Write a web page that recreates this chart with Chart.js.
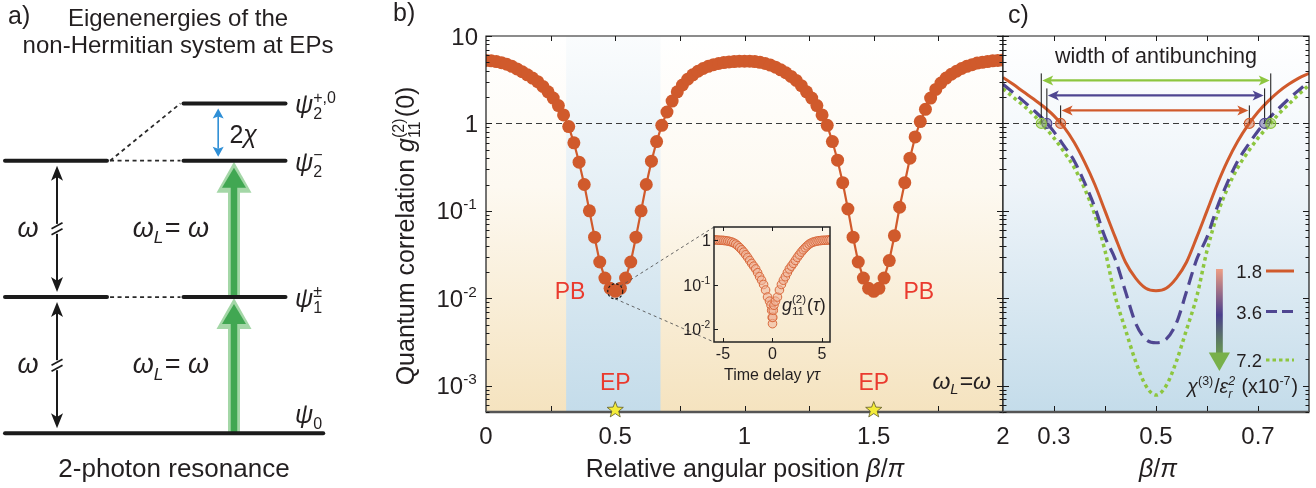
<!DOCTYPE html>
<html lang="en">
<head>
<meta charset="UTF-8">
<title>Antibunching at exceptional points</title>
<script src="https://cdn.jsdelivr.net/npm/chart.js"></script>
<style>
  body { margin: 0; background: #ffffff; }
  #figure { position: relative; width: 1316px; height: 488px; overflow: hidden; }
  #figure canvas { position: absolute; left: 0; top: 0; }
</style>
</head>
<body>
<div id="figure">
  <canvas id="levelChart" width="1316" height="488"></canvas>
  <canvas id="angleChart" width="1316" height="488"></canvas>
  <canvas id="zoomChart" width="1316" height="488"></canvas>
  <canvas id="insetChart" width="1316" height="488"></canvas>
</div>
<script>
  // ---------- values ----------

  // a) energy levels (units of omega)
  const groundLevel = 0;
  const bareLevels = [1, 2];
  const epLevels = [1, 2, 2.42];
  const levelLinks = [[1, 1], [2, 2], [2, 2.42]];
  const levelLabelE = [0, 1, 2, 2.42];
  const levelLabelSub = ['0', '1', '2', '2'];
  const levelLabelSup = ['', '±', '−', '+,0'];

  // b) g2(0) against beta/pi
  const betaB = [
    0, 0.02, 0.04, 0.06, 0.08, 0.1, 0.12, 0.14, 0.16, 0.18,
    0.2, 0.22, 0.24, 0.26, 0.28, 0.3, 0.32, 0.34, 0.36, 0.38,
    0.4, 0.42, 0.44, 0.46, 0.48, 0.5, 0.52, 0.54, 0.56, 0.58,
    0.6, 0.62, 0.64, 0.66, 0.68, 0.7, 0.72, 0.74, 0.76, 0.78,
    0.8, 0.82, 0.84, 0.86, 0.88, 0.9, 0.92, 0.94, 0.96, 0.98,
    1, 1.02, 1.04, 1.06, 1.08, 1.1, 1.12, 1.14, 1.16, 1.18,
    1.2, 1.22, 1.24, 1.26, 1.28, 1.3, 1.32, 1.34, 1.36, 1.38,
    1.4, 1.42, 1.44, 1.46, 1.48, 1.5, 1.52, 1.54, 1.56, 1.58,
    1.6, 1.62, 1.64, 1.66, 1.68, 1.7, 1.72, 1.74, 1.76, 1.78,
    1.8, 1.82, 1.84, 1.86, 1.88, 1.9, 1.92, 1.94, 1.96, 1.98, 2
  ];
  const g2B = [
    5.25, 5.2, 5.1, 4.95, 4.75, 4.5, 4.2, 3.9, 3.6, 3.3,
    3.0, 2.65, 2.3, 1.95, 1.6, 1.25, 0.92, 0.6, 0.36, 0.2,
    0.1, 0.05, 0.026, 0.017, 0.013, 0.012, 0.013, 0.017, 0.026, 0.05,
    0.1, 0.2, 0.37, 0.62, 0.95, 1.35, 1.8, 2.3, 2.75, 3.2,
    3.6, 3.95, 4.25, 4.5, 4.7, 4.85, 4.97, 5.05, 5.1, 5.15,
    5.15, 5.15, 5.1, 5.0, 4.85, 4.65, 4.4, 4.1, 3.8, 3.45,
    3.1, 2.7, 2.3, 1.95, 1.6, 1.25, 0.95, 0.62, 0.38, 0.21,
    0.105, 0.05, 0.026, 0.017, 0.013, 0.012, 0.013, 0.017, 0.027, 0.052,
    0.11, 0.21, 0.4, 0.7, 1.05, 1.45, 1.95, 2.45, 2.9, 3.3,
    3.65, 3.95, 4.25, 4.5, 4.7, 4.9, 5.0, 5.1, 5.2, 5.25, 5.3
  ];
  const epPositions = [0.5, 1.5];
  const epBand = [0.31, 0.675];
  const xTickValuesB = [0, 0.5, 1, 1.5, 2];
  const xTickLabelsB = ['0', '0.5', '1', '1.5', '2'];
  const yTickValues = [10, 1, 0.1, 0.01, 0.001];
  const yTickLabels = ['10', '1', '10^-1', '10^-2', '10^-3'];

  // inset: g2(tau)
  const tauIn = [-5.9, -5.7, -5.5, -5.3, -5.1, -4.9, -4.7, -4.5, -4.3, -4.1, -3.9, -3.7, -3.5, -3.3, -3.1,
    -2.9, -2.7, -2.5, -2.3, -2.1, -1.9, -1.7, -1.5, -1.3, -1.1, -0.9, -0.7, -0.5, -0.3, -0.15, -0.08, -0.03,
    0, 0.03, 0.08, 0.15, 0.3, 0.5, 0.7, 0.9, 1.1, 1.3, 1.5, 1.7, 1.9, 2.1, 2.3, 2.5, 2.7, 2.9, 3.1, 3.3,
    3.5, 3.7, 3.9, 4.1, 4.3, 4.5, 4.7, 4.9, 5.1, 5.3, 5.5, 5.7, 5.9];
  const g2Tau = [1.02, 1.02, 1.01, 1, 1, 0.99, 0.98, 0.96, 0.94, 0.91, 0.87, 0.82, 0.75, 0.68, 0.61,
    0.54, 0.47, 0.41, 0.35, 0.3, 0.26, 0.225, 0.185, 0.15, 0.125, 0.1, 0.075, 0.052, 0.042, 0.034, 0.026, 0.018,
    0.013, 0.018, 0.026, 0.034, 0.042, 0.052, 0.075, 0.1, 0.125, 0.15, 0.185, 0.225, 0.26, 0.3, 0.35,
    0.41, 0.47, 0.54, 0.61, 0.68, 0.75, 0.82, 0.87, 0.91, 0.94, 0.96, 0.98, 0.99, 1, 1, 1.01, 1.02, 1.02];
  const tauTicks = [-5, 0, 5];
  const insetYTicks = [1, 0.1, 0.01];
  const insetYLabels = ['1', '10^-1', '10^-2'];

  // c) zoom around the EP for three Kerr strengths
  const betaC = [0.2, 0.22, 0.24, 0.26, 0.28, 0.3, 0.32, 0.34, 0.36, 0.38, 0.4, 0.42, 0.44, 0.46, 0.48, 0.5,
    0.52, 0.54, 0.56, 0.58, 0.6, 0.62, 0.64, 0.66, 0.68, 0.7, 0.72, 0.74, 0.76, 0.78, 0.8];
  const g2C18 = [3.35, 2.8, 2.3, 1.9, 1.55, 1.22, 0.9, 0.6, 0.36, 0.2, 0.1, 0.05, 0.026, 0.017, 0.013, 0.0122,
    0.013, 0.017, 0.026, 0.05, 0.1, 0.2, 0.37, 0.62, 0.95, 1.35, 1.8, 2.3, 2.8, 3.3, 3.75];
  const g2C36 = [2.8, 2.25, 1.8, 1.42, 1.1, 0.8, 0.55, 0.37, 0.21, 0.11, 0.05, 0.028, 0.012, 0.0052, 0.0034, 0.0031,
    0.0034, 0.0052, 0.012, 0.028, 0.05, 0.11, 0.21, 0.37, 0.56, 0.82, 1.12, 1.47, 1.9, 2.4, 3.0];
  const g2C72 = [2.5, 2.0, 1.6, 1.25, 0.93, 0.68, 0.47, 0.31, 0.18, 0.09, 0.035, 0.0105, 0.0044, 0.0019, 0.001, 0.00078,
    0.001, 0.0019, 0.0044, 0.0105, 0.035, 0.09, 0.18, 0.31, 0.47, 0.68, 0.93, 1.27, 1.65, 2.15, 2.75];
  const kerrLabels = ['1.8', '3.6', '7.2'];
  const crossings = [[0.313, 0.683], [0.286, 0.713], [0.275, 0.725]]; // g2 = 1 for 1.8, 3.6, 7.2
  const xTickValuesC = [0.3, 0.5, 0.7];
  const xTickLabelsC = ['0.3', '0.5', '0.7'];

  // ---------- styling ----------
  const FONT = '"Liberation Sans", Arial, Helvetica, sans-serif';
  const INK = '#231f20';
  const ORANGE = '#d05a2c';
  const PURPLE = '#4f4691';
  const GREEN = '#8dc63f';
  const RED = '#ea3a2e';
  const kerrColors = [ORANGE, PURPLE, GREEN];
  const W = 1316, H = 488;
  const TICK_FONT = 24, TITLE_FONT = 25, PANEL_FONT = 25;

  const toXY = (xs, ys) => xs.map((x, i) => ({ x: x, y: ys[i] }));

  // ---------- text helpers (sub/superscripts) ----------
  const fontOf = (size, italic) => (italic ? 'italic ' : '') + size + 'px ' + FONT;

  function partW(ctx, p, size) {
    if (p.sup !== undefined || p.sub !== undefined) {
      ctx.font = fontOf(size * 0.64, p.it);
      const a = p.sup ? ctx.measureText(p.sup).width : 0;
      const b = p.sub ? ctx.measureText(p.sub).width : 0;
      return Math.max(a, b) + size * 0.05;
    }
    ctx.font = fontOf(size, p.it);
    return ctx.measureText(p.t).width;
  }

  function rich(ctx, parts, x, y, size, align, color) {
    let w = 0;
    parts.forEach(p => { w += partW(ctx, p, size); });
    let cx = align === 'center' ? x - w / 2 : align === 'right' ? x - w : x;
    ctx.fillStyle = color || INK;
    ctx.textAlign = 'left';
    ctx.textBaseline = 'alphabetic';
    parts.forEach(p => {
      const pw = partW(ctx, p, size);
      if (p.sup !== undefined || p.sub !== undefined) {
        ctx.font = fontOf(size * 0.64, p.it);
        if (p.sup) ctx.fillText(p.sup, cx, y - size * 0.42);
        if (p.sub) ctx.fillText(p.sub, cx, y + size * 0.24);
      } else {
        ctx.font = fontOf(size, p.it);
        ctx.fillText(p.t, cx, y);
      }
      cx += pw;
    });
    return w;
  }

  const parseTick = s => {
    const bits = s.split('^');
    return bits[1] ? [{ t: bits[0] }, { sup: bits[1] }] : [{ t: bits[0] }];
  };

  // ---------- drawing helpers ----------
  function seg2(ctx, x0, y0, x1, y1) {
    ctx.beginPath(); ctx.moveTo(x0, y0); ctx.lineTo(x1, y1); ctx.stroke();
  }

  // arrow head with tip at (tx, ty) pointing along (dx, dy)
  function head(ctx, tx, ty, dx, dy, len, hw, color, notch) {
    const px = -dy, py = dx;
    const bx = tx - dx * len, by = ty - dy * len;
    const nx = tx - dx * len * notch, ny = ty - dy * len * notch;
    ctx.fillStyle = color;
    ctx.beginPath();
    ctx.moveTo(tx, ty);
    ctx.lineTo(bx + px * hw, by + py * hw);
    ctx.lineTo(nx, ny);
    ctx.lineTo(bx - px * hw, by - py * hw);
    ctx.closePath();
    ctx.fill();
  }

  function star(ctx, cx, cy, ro, ri) {
    ctx.beginPath();
    for (let i = 0; i < 10; i++) {
      const r = i % 2 === 0 ? ro : ri;
      const ang = -Math.PI / 2 + i * Math.PI / 5;
      const px = cx + r * Math.cos(ang), py = cy + r * Math.sin(ang);
      if (i === 0) ctx.moveTo(px, py); else ctx.lineTo(px, py);
    }
    ctx.closePath();
    ctx.fillStyle = '#f4ec3a';
    ctx.fill();
    ctx.strokeStyle = '#5e5a2a';
    ctx.lineWidth = 0.8;
    ctx.stroke();
  }

  function frame(ctx, a) {
    ctx.strokeStyle = '#1a1a1a';
    ctx.lineWidth = 1.2;
    ctx.beginPath();
    ctx.moveTo(a.left, a.bottom); ctx.lineTo(a.left, a.top);
    ctx.lineTo(a.right, a.top); ctx.lineTo(a.right, a.bottom);
    ctx.stroke();
    ctx.strokeStyle = '#555555';
    ctx.lineWidth = 2.6;
    seg2(ctx, a.left - 0.5, a.bottom, a.right + 0.5, a.bottom);
  }

  // log ticks along a vertical edge, dir = +1 to the right, -1 to the left
  function logTicksY(ctx, scale, xEdge, dir, majorLen, minorLen, withMinor) {
    ctx.strokeStyle = '#1a1a1a';
    ctx.lineWidth = 1;
    const lo = Math.floor(Math.log10(scale.min)), hi = Math.ceil(Math.log10(scale.max));
    for (let d = lo; d <= hi; d++) {
      for (let m = 1; m <= 9; m++) {
        if (m > 1 && !withMinor) continue;
        const v = m * Math.pow(10, d);
        if (v < scale.min * 0.999 || v > scale.max * 1.001) continue;
        const py = Math.round(scale.getPixelForValue(v)) + 0.5;
        seg2(ctx, xEdge, py, xEdge + dir * (m === 1 ? majorLen : minorLen), py);
      }
    }
  }

  function ticksX(ctx, scale, values, top, bottom, len) {
    ctx.strokeStyle = '#1a1a1a';
    ctx.lineWidth = 1;
    values.forEach(v => {
      const px = Math.round(scale.getPixelForValue(v)) + 0.5;
      seg2(ctx, px, top, px, top + len);
      seg2(ctx, px, bottom, px, bottom - len);
    });
  }

  function unityLine(chart) {
    const { ctx, chartArea: a, scales: { y } } = chart;
    const py = Math.round(y.getPixelForValue(1)) + 0.5;
    ctx.save();
    ctx.strokeStyle = '#3a3a3a';
    ctx.lineWidth = 1;
    ctx.setLineDash([6, 4]);
    seg2(ctx, a.left, py, a.right, py);
    ctx.restore();
  }

  const baseOptions = (padding) => ({
    responsive: false,
    animation: false,
    devicePixelRatio: 1,
    layout: { padding: padding },
    plugins: { legend: { display: false }, tooltip: { enabled: false } },
    events: []
  });

  // ---------- a) level scheme ----------
  const levelDeco = {
    id: 'levelDeco',
    beforeDatasetsDraw(chart) {
      const { ctx, scales: { x, y } } = chart;
      ctx.save();
      // green two-photon pump arrows
      const gx = x.getPixelForValue(2.245);
      [[0, 1], [1, 2]].forEach(([e0, e1]) => {
        const yb = y.getPixelForValue(e0), yt = y.getPixelForValue(e1);
        ctx.strokeStyle = '#a4d7a7';
        ctx.lineWidth = 12;
        seg2(ctx, gx, yb, gx, yt + 28);
        head(ctx, gx, yt + 1, 0, -1, 31, 17.5, '#a4d7a7', 1);
        ctx.strokeStyle = '#41a752';
        ctx.lineWidth = 6.5;
        seg2(ctx, gx, yb, gx, yt + 24);
        head(ctx, gx, yt + 7, 0, -1, 20, 12, '#41a752', 1);
      });
      ctx.restore();
    },
    afterDatasetsDraw(chart) {
      const { ctx, scales: { x, y } } = chart;
      ctx.save();
      // omega arrows with break marks
      const ax = x.getPixelForValue(0.51);
      [[0, 1], [1, 2]].forEach(([e0, e1]) => {
        const yb = y.getPixelForValue(e0) - 5, yt = y.getPixelForValue(e1) + 5, ym = (yb + yt) / 2;
        ctx.strokeStyle = '#1a1a1a';
        ctx.lineWidth = 2;
        seg2(ctx, ax, yt + 10, ax, ym - 5);
        seg2(ctx, ax, ym + 5, ax, yb - 10);
        head(ctx, ax, yt, 0, -1, 15, 6, '#1a1a1a', 0.75);
        head(ctx, ax, yb, 0, 1, 15, 6, '#1a1a1a', 0.75);
        ctx.lineWidth = 1.7;
        [-3, 3].forEach(o => seg2(ctx, ax - 5.5, ym + o + 3, ax + 5.5, ym + o - 3));
        rich(ctx, [{ t: 'ω', it: true }], x.getPixelForValue(0.225), ym + 8, 27, 'center');
        rich(ctx, [{ t: 'ω', it: true }, { sub: 'L', it: true }, { t: '= ' }, { t: 'ω', it: true }],
          x.getPixelForValue(1.627), ym + 8, 27, 'center');
      });
      // 2chi splitting arrow
      const bx = x.getPixelForValue(2.09);
      const y2 = y.getPixelForValue(2), y3 = y.getPixelForValue(2.42);
      ctx.strokeStyle = '#2f8fd6';
      ctx.lineWidth = 1.6;
      seg2(ctx, bx, y3 + 12, bx, y2 - 12);
      head(ctx, bx, y3 + 5, 0, -1, 10, 5.5, '#2f8fd6', 0.8);
      head(ctx, bx, y2 - 4, 0, 1, 10, 5.5, '#2f8fd6', 0.8);
      rich(ctx, [{ t: '2' }, { t: 'χ', it: true }], x.getPixelForValue(2.2), (y2 + y3) / 2 + 11, 25, 'left');
      // state labels
      levelLabelE.forEach((e, i) => {
        const py = y.getPixelForValue(e) + (e === 0 ? -10 : 10);
        rich(ctx, [{ t: 'ψ', it: true }, { sup: levelLabelSup[i], sub: levelLabelSub[i] }],
          x.getPixelForValue(2.843), py, 25, 'left');
      });
      rich(ctx, [{ t: 'a)' }], 8, 24, PANEL_FONT, 'left');
      rich(ctx, [{ t: 'Eigenenergies of the' }], 178, 26, 24, 'center');
      rich(ctx, [{ t: 'non-Hermitian system at EPs' }], 178, 53, 24, 'center');
      rich(ctx, [{ t: '2-photon resonance' }], 174, 477, 26, 'center');
      ctx.restore();
    }
  };

  const seg = (x0, x1, e0, e1, extra) => Object.assign({
    data: [{ x: x0, y: e0 }, { x: x1, y: e1 }],
    showLine: true, pointRadius: 0, borderColor: '#1b1b1b', borderWidth: 4,
    borderCapStyle: 'round', clip: false
  }, extra || {});
  const dotted = { borderWidth: 1.8, borderDash: [4, 3.5], borderCapStyle: 'butt', borderColor: '#2a2a2a' };

  const levelData = [seg(0, 3.12, groundLevel, groundLevel)]
    .concat(bareLevels.map(e => seg(0, 1, e, e)))
    .concat(epLevels.map(e => seg(1.75, 2.75, e, e)))
    .concat(levelLinks.map(([a, b]) => seg(1.03, 1.72, a, b, dotted)));

  const levelOpts = baseOptions({ left: 5, right: W - 331.4, top: 24.4, bottom: H - 460.6 });
  levelOpts.scales = {
    x: { type: 'linear', min: 0, max: 3.2, display: false },
    y: { type: 'linear', min: -0.2, max: 3, display: false }
  };
  new Chart(document.getElementById('levelChart'), {
    type: 'scatter',
    data: { datasets: levelData },
    options: levelOpts,
    plugins: [levelDeco]
  });

  // ---------- b) g2(0) vs angle ----------
  const angleDeco = {
    id: 'angleDeco',
    beforeDraw(chart) {
      const { ctx, chartArea: a, scales: { x } } = chart;
      ctx.save();
      let g = ctx.createLinearGradient(0, a.top, 0, a.bottom);
      g.addColorStop(0, '#ffffff');
      g.addColorStop(0.4, '#fdf9f1');
      g.addColorStop(1, '#f5e3bf');
      ctx.fillStyle = g;
      ctx.fillRect(a.left, a.top, a.width, a.height);
      const x0 = x.getPixelForValue(epBand[0]), x1 = x.getPixelForValue(epBand[1]);
      g = ctx.createLinearGradient(0, a.top, 0, a.bottom);
      g.addColorStop(0, '#fafcfd');
      g.addColorStop(0.4, '#e6f0f6');
      g.addColorStop(1, '#c4dcea');
      ctx.fillStyle = g;
      ctx.fillRect(x0, a.top, x1 - x0, a.height);
      ctx.restore();
    },
    beforeDatasetsDraw(chart) { unityLine(chart); },
    afterDatasetsDraw(chart) {
      const { ctx, chartArea: a, scales: { x, y } } = chart;
      ctx.save();
      frame(ctx, a);
      logTicksY(ctx, y, a.left, 1, 6, 3.5, true);
      logTicksY(ctx, y, a.right, -1, 6, 3.5, true);
      const minor = [];
      for (let v = 0.25; v < 2; v += 0.25) minor.push(v);
      ticksX(ctx, x, minor, a.top, a.bottom - 1, 5);

      // dashed circle marking the zoomed minimum
      ctx.strokeStyle = '#1a1a1a';
      ctx.lineWidth = 1.2;
      ctx.setLineDash([2.5, 2]);
      ctx.beginPath();
      ctx.arc(x.getPixelForValue(0.5), y.getPixelForValue(0.012), 7.5, 0, Math.PI * 2);
      ctx.stroke();
      ctx.setLineDash([]);

      epPositions.forEach(b => star(ctx, x.getPixelForValue(b), a.bottom - 2, 8.5, 3.6));

      rich(ctx, [{ t: 'PB' }], x.getPixelForValue(0.325), y.getPixelForValue(0.012) + 8, 23, 'center', RED);
      rich(ctx, [{ t: 'PB' }], x.getPixelForValue(1.674), y.getPixelForValue(0.012) + 8, 23, 'center', RED);
      epPositions.forEach(b => rich(ctx, [{ t: 'EP' }], x.getPixelForValue(b), y.getPixelForValue(0.001) + 4, 23, 'center', RED));
      rich(ctx, [{ t: 'ω', it: true }, { sub: 'L', it: true }, { t: '=' }, { t: 'ω', it: true }],
        x.getPixelForValue(1.727), y.getPixelForValue(0.001) + 3, 23, 'left');

      // tick labels and titles
      xTickValuesB.forEach((v, i) => rich(ctx, [{ t: xTickLabelsB[i] }], x.getPixelForValue(v), 444, TICK_FONT, 'center'));
      yTickValues.forEach((v, i) => rich(ctx, parseTick(yTickLabels[i]), 478, y.getPixelForValue(v) + 8.5, TICK_FONT, 'right'));
      rich(ctx, [{ t: 'Relative angular position ' }, { t: 'β', it: true }, { t: '/' }, { t: 'π', it: true }], 745, 477, TITLE_FONT, 'center');
      ctx.save();
      ctx.translate(414, 236);
      ctx.rotate(-Math.PI / 2);
      rich(ctx, [{ t: 'Quantum correlation ' }, { t: 'g', it: true }, { sup: '(2)', sub: '11' }, { t: '(0)' }], 0, 0, TITLE_FONT, 'center');
      ctx.restore();
      rich(ctx, [{ t: 'b)' }], 393, 21, PANEL_FONT, 'left');
      ctx.restore();
    }
  };

  const angleOpts = baseOptions({ left: 486, right: W - 1003, top: 36, bottom: H - 412 });
  angleOpts.scales = {
    x: { type: 'linear', min: 0, max: 2, display: false },
    y: { type: 'logarithmic', min: 5e-4, max: 10, display: false }
  };
  const angleChart = new Chart(document.getElementById('angleChart'), {
    type: 'scatter',
    data: {
      datasets: [{
        data: toXY(betaB, g2B),
        showLine: true,
        borderColor: ORANGE,
        borderWidth: 2.2,
        pointRadius: 6.5,
        pointBackgroundColor: ORANGE,
        pointBorderWidth: 0,
        clip: 0
      }]
    },
    options: angleOpts,
    plugins: [angleDeco]
  });

  // ---------- c) zoom near the EP ----------
  const zoomDeco = {
    id: 'zoomDeco',
    beforeDraw(chart) {
      const { ctx, chartArea: a } = chart;
      ctx.save();
      const g = ctx.createLinearGradient(0, a.top, 0, a.bottom);
      g.addColorStop(0, '#ffffff');
      g.addColorStop(0.4, '#eef4f9');
      g.addColorStop(1, '#c4dcea');
      ctx.fillStyle = g;
      ctx.fillRect(a.left, a.top, a.width, a.height);
      ctx.restore();
    },
    beforeDatasetsDraw(chart) { unityLine(chart); },
    afterDatasetsDraw(chart) {
      const { ctx, chartArea: a, scales: { x, y } } = chart;
      ctx.save();
      frame(ctx, a);
      logTicksY(ctx, y, a.left, 1, 6, 3.5, true);
      logTicksY(ctx, y, a.right, -1, 6, 3.5, true);
      ticksX(ctx, x, [0.3, 0.4, 0.5, 0.6, 0.7], a.top, a.bottom - 1, 5);

      // width of antibunching markers
      const y1 = y.getPixelForValue(1);
      const lineTop = [18, 35, 50];
      const arrowUp = [13, 28, 43];
      crossings.forEach((c, i) => {
        const xl = x.getPixelForValue(c[0]), xr = x.getPixelForValue(c[1]);
        ctx.strokeStyle = '#111111';
        ctx.lineWidth = 1;
        seg2(ctx, xl, y1, xl, y1 - lineTop[i]);
        seg2(ctx, xr, y1, xr, y1 - lineTop[i]);
        const ya = y1 - arrowUp[i];
        ctx.strokeStyle = kerrColors[i];
        ctx.lineWidth = 2.2;
        seg2(ctx, xl + 8, ya, xr - 8, ya);
        head(ctx, xl + 1, ya, -1, 0, 11, 5, kerrColors[i], 0.75);
        head(ctx, xr - 1, ya, 1, 0, 11, 5, kerrColors[i], 0.75);
      });
      crossings.forEach((c, i) => {
        c.forEach(b => {
          ctx.beginPath();
          ctx.arc(x.getPixelForValue(b), y1, 5, 0, Math.PI * 2);
          ctx.globalAlpha = 0.45;
          ctx.fillStyle = kerrColors[i];
          ctx.fill();
          ctx.globalAlpha = 1;
          ctx.strokeStyle = kerrColors[i];
          ctx.lineWidth = 1.1;
          ctx.stroke();
        });
      });
      rich(ctx, [{ t: 'width of antibunching' }], 1156, 63, 21.5, 'center');

      // legend: gradient arrow, samples and labels
      const g = ctx.createLinearGradient(0, 269, 0, 371);
      g.addColorStop(0, '#ee9e84');
      g.addColorStop(0.45, '#4a3f8c');
      g.addColorStop(0.75, '#61875a');
      g.addColorStop(1, '#7db548');
      ctx.fillStyle = g;
      ctx.fillRect(1216, 269, 6.8, 85);
      ctx.beginPath();
      ctx.moveTo(1208.8, 352.5); ctx.lineTo(1230, 352.5); ctx.lineTo(1219.4, 371);
      ctx.closePath();
      ctx.fillStyle = '#78b04a';
      ctx.fill();
      const legendY = [271, 311.5, 360];
      const dashes = [[], [11, 5], [3.5, 3]];
      kerrLabels.forEach((lab, i) => {
        ctx.strokeStyle = kerrColors[i];
        ctx.lineWidth = 3;
        ctx.setLineDash(dashes[i]);
        seg2(ctx, 1266, legendY[i], 1294, legendY[i]);
        ctx.setLineDash([]);
        rich(ctx, [{ t: lab }], 1262, legendY[i] + 7, 18.5, 'right');
      });
      rich(ctx, [{ t: 'χ', it: true }, { sup: '(3)' }, { t: '/' }, { t: 'ε', it: true }, { sup: '2', sub: 'r', it: true },
        { t: ' (x10' }, { sup: '-7' }, { t: ')' }], 1298, 393, 19.5, 'right');

      xTickValuesC.forEach((v, i) => rich(ctx, [{ t: xTickLabelsC[i] }], x.getPixelForValue(v), 444, TICK_FONT, 'center'));
      rich(ctx, [{ t: 'β', it: true }, { t: '/' }, { t: 'π', it: true }], 1158, 477, TITLE_FONT, 'center');
      rich(ctx, [{ t: 'c)' }], 1008, 23, PANEL_FONT, 'left');
      ctx.restore();
    }
  };

  const curve = (ys, color, dash, width) => ({
    data: toXY(betaC, ys),
    showLine: true,
    borderColor: color,
    borderDash: dash,
    borderWidth: width,
    pointRadius: 0,
    cubicInterpolationMode: 'monotone',
    clip: 0
  });

  const zoomOpts = baseOptions({ left: 1003, right: W - 1309, top: 36, bottom: H - 412 });
  zoomOpts.scales = {
    x: { type: 'linear', min: 0.2, max: 0.8, display: false },
    y: { type: 'logarithmic', min: 5e-4, max: 10, display: false }
  };
  new Chart(document.getElementById('zoomChart'), {
    type: 'scatter',
    data: {
      datasets: [
        curve(g2C18, ORANGE, [], 3),
        curve(g2C36, PURPLE, [13, 7], 3.2),
        curve(g2C72, GREEN, [3.5, 3.5], 3.5)
      ]
    },
    options: zoomOpts,
    plugins: [zoomDeco]
  });

  // ---------- inset: g2(tau) ----------
  const insetDeco = {
    id: 'insetDeco',
    beforeDatasetsDraw(chart) {
      const { ctx, chartArea: a } = chart;
      const bx = angleChart.scales.x.getPixelForValue(0.5);
      const by = angleChart.scales.y.getPixelForValue(0.012);
      ctx.save();
      ctx.strokeStyle = '#555555';
      ctx.lineWidth = 0.9;
      ctx.setLineDash([3, 3]);
      seg2(ctx, bx + 5, by - 5, a.left, a.top);
      seg2(ctx, bx, by + 7.5, a.left, a.bottom);
      ctx.restore();
    },
    afterDatasetsDraw(chart) {
      const { ctx, chartArea: a, scales: { x, y } } = chart;
      ctx.save();
      ctx.strokeStyle = '#222222';
      ctx.lineWidth = 1.5;
      ctx.strokeRect(a.left, a.top, a.width, a.height);
      logTicksY(ctx, y, a.left, 1, 4, 2, false);
      ticksX(ctx, x, tauTicks, a.top, a.bottom, 4);
      insetYTicks.forEach((v, i) => rich(ctx, parseTick(insetYLabels[i]), a.left - 3, y.getPixelForValue(v) + 6, 16, 'right'));
      tauTicks.forEach(v => rich(ctx, [{ t: String(v) }], x.getPixelForValue(v), 359, 16, 'center'));
      rich(ctx, [{ t: 'Time delay ' }, { t: 'γτ', it: true }], 772, 380, 16, 'center');
      rich(ctx, [{ t: 'g', it: true }, { sup: '(2)', sub: '11' }, { t: '(' }, { t: 'τ', it: true }, { t: ')' }], 782, 311, 18, 'left');
      ctx.restore();
    }
  };

  const insetOpts = baseOptions({ left: 714, right: W - 830, top: 227, bottom: H - 342 });
  insetOpts.scales = {
    x: { type: 'linear', min: -5.9, max: 5.8, display: false },
    y: { type: 'logarithmic', min: 0.005, max: 2, display: false }
  };
  new Chart(document.getElementById('insetChart'), {
    type: 'scatter',
    data: {
      datasets: [{
        data: toXY(tauIn, g2Tau),
        pointRadius: 4.3,
        pointBackgroundColor: 'rgba(238, 176, 150, 0.55)',
        pointBorderColor: '#d8683b',
        pointBorderWidth: 1,
        clip: 0
      }]
    },
    options: insetOpts,
    plugins: [insetDeco]
  });
</script>
</body>
</html>
